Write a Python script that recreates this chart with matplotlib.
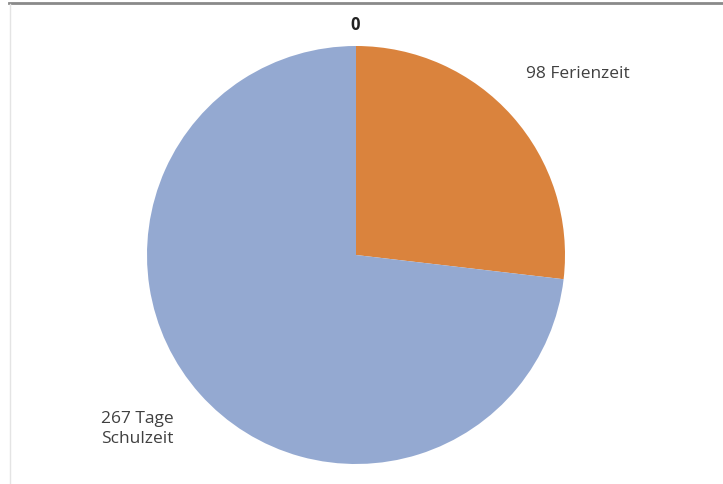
import matplotlib
matplotlib.use("Agg")
import matplotlib.pyplot as plt
from matplotlib.lines import Line2D

# Tage im Schuljahr
categories = ["Ferienzeit", "Schulzeit"]
values = [98, 267]
label_texts = ["98 Ferienzeit", "267 Tage\nSchulzeit"]
colors = ["#DA833D", "#94A9D1"]
title_text = "0"

W, H = 723, 485
fig = plt.figure(figsize=(W / 100, H / 100), dpi=100)
fig.patch.set_facecolor("white")

# Pie centred at (356, 256) px with radius 209 px
cx, cy, r = 356, 256, 209
ax = fig.add_axes([(cx - r) / W, (H - cy - r) / H, 2 * r / W, 2 * r / H])
ax.pie(values, colors=colors, startangle=90, counterclock=False,
       radius=1.0, wedgeprops=dict(linewidth=0))
ax.set_xlim(-1, 1)
ax.set_ylim(-1, 1)
ax.set_aspect("equal")
ax.axis("off")

# Frame lines of the chart area
fig.add_artist(Line2D([9 / W, 1], [1 - 4 / H, 1 - 4 / H], color="#8a8a8a", lw=2))
fig.add_artist(Line2D([10 / W, 10 / W], [0, 1 - 5 / H], color="#e4e4e4", lw=1))

font = "Open Sans"
fig.text(355 / W, 1 - 25 / H, title_text, ha="center", va="center",
         fontsize=12, fontweight="bold", family=font, color="#222222")
fig.text(526 / W, 1 - 74 / H, label_texts[0], ha="left", va="center",
         fontsize=12.5, family=font, color="#404040")
fig.text(101 / W, 1 - 429 / H, label_texts[1], ha="left", va="center",
         fontsize=12.5, family=font, color="#404040", linespacing=1.3)

fig.savefig("out.png", dpi=100, facecolor="white")
